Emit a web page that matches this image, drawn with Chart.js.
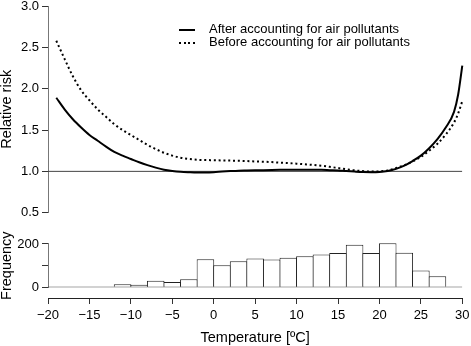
<!DOCTYPE html>
<html><head><meta charset="utf-8">
<script src="https://cdn.jsdelivr.net/npm/chart.js@4.4.1/dist/chart.umd.min.js"></script>
<style>
html,body{margin:0;padding:0;background:#fff}
#wrap{position:relative;width:471px;height:346px;overflow:hidden;background:#fff}
canvas{position:absolute;left:0;top:0}
.leg{position:absolute;left:209px;font-family:"Liberation Sans",Arial,sans-serif;font-size:13px;line-height:13px;color:#000;white-space:nowrap}
.smp{position:absolute;left:179px;width:16px;height:2px}
</style></head><body>
<div id="wrap"><canvas id="c" width="471" height="346"></canvas>
<div class="smp" style="top:29px;background:#000"></div>
<div class="leg" style="top:22px">After accounting for air pollutants</div>
<div class="smp" style="top:42px;background:repeating-linear-gradient(90deg,#000 0 2px,transparent 2px 4.6px)"></div>
<div class="leg" style="top:35px">Before accounting for air pollutants</div>
</div>
<script>
// Temperature grid of the fitted curves
const temps = [-19,-18,-17,-16,-15,-14,-13,-12,-11,-10,-9,-8,-7,-6,-5,-4,-3,-2,-1,0,1,2,3,4,5,6,7,8,9,10,11,12,13,14,15,16,17,18,19,20,21,22,23,24,25,26,27,28,29,29.5,30];
// Relative risk after accounting for air pollutants (solid)
const rrAfter = [1.89,1.75,1.63,1.53,1.44,1.37,1.30,1.235,1.19,1.15,1.11,1.075,1.045,1.02,1.005,0.995,0.99,0.987,0.987,0.99,0.997,1.003,1.008,1.01,1.012,1.014,1.016,1.018,1.02,1.02,1.02,1.02,1.018,1.014,1.01,1.003,0.997,0.992,0.99,0.993,1.005,1.03,1.07,1.125,1.19,1.28,1.39,1.53,1.72,1.93,2.28];
// Relative risk before accounting for air pollutants (dotted)
const rrBefore = [2.58,2.36,2.15,1.98,1.86,1.75,1.66,1.57,1.50,1.44,1.38,1.32,1.27,1.225,1.19,1.165,1.15,1.14,1.137,1.135,1.132,1.13,1.128,1.125,1.12,1.117,1.112,1.105,1.10,1.093,1.085,1.077,1.067,1.055,1.04,1.025,1.012,1.003,0.998,1.0,1.012,1.04,1.075,1.12,1.175,1.25,1.335,1.445,1.59,1.70,1.85];
// Histogram bins (centres of 2-degree bins) and frequencies
const binCenters = [-19,-17,-15,-13,-11,-9,-7,-5,-3,-1,1,3,5,7,9,11,13,15,17,19,21,23,25,27,29];
const binCounts  = [0,0,0,3,14,12,30,25,37,130,102,120,133,128,136,143,151,159,196,158,204,160,78,51,3];
// Axis ticks
const tempTicks = [-20,-15,-10,-5,0,5,10,15,20,25,30];
const tempTickLabels = ['\u221220','\u221215','\u221210','\u22125','0','5','10','15','20','25','30'];
const riskTicks = [0.5,1.0,1.5,2.0,2.5,3.0];
const riskTickLabels = ['0.5','1.0','1.5','2.0','2.5','3.0'];
const freqTicks = [0,100,200];
const freqTickLabels = ['0','','200'];
const refRisk = 1.0;

Chart.defaults.font.family = '"Liberation Sans", Arial, Helvetica, sans-serif';
Chart.defaults.font.size = 13;
Chart.defaults.color = '#000';

const xy = (xs, ys) => xs.map((x, i) => ({x, y: ys[i]}));
const titleFont = {size: 14.5, lineHeight: 1};

const yFit = s => { s.width = 48; s.paddingTop = 0; s.paddingBottom = 0; };

new Chart(document.getElementById('c'), {
  type: 'line',
  data: {
    datasets: [
      {type: 'line', label: 'After accounting for air pollutants', data: xy(temps, rrAfter), yAxisID: 'yRisk',
       borderColor: '#000', borderWidth: 2, pointRadius: 0, cubicInterpolationMode: 'monotone', fill: false, clip: false, order: 1},
      {type: 'line', label: 'Before accounting for air pollutants', data: xy(temps, rrBefore), yAxisID: 'yRisk',
       borderColor: '#000', borderWidth: 2, borderDash: [2, 2.8], pointRadius: 0, cubicInterpolationMode: 'monotone', fill: false, clip: false, order: 2},
      {type: 'line', label: 'ref', data: [{x: tempTicks[0], y: refRisk}, {x: tempTicks[tempTicks.length-1], y: refRisk}], yAxisID: 'yRisk',
       borderColor: '#444', borderWidth: 1, pointRadius: 0, fill: false, order: 3},
      {type: 'line', label: 'base', data: [{x: tempTicks[0], y: 0}, {x: tempTicks[tempTicks.length-1], y: 0}], yAxisID: 'yFreq',
       borderColor: '#222', borderWidth: 1, pointRadius: 0, fill: false, order: 4},
      {type: 'bar', label: 'Frequency', data: xy(binCenters, binCounts), yAxisID: 'yFreq',
       backgroundColor: '#fff', borderColor: '#222', borderWidth: 1, barPercentage: 1.06, categoryPercentage: 1, grouped: false, clip: false, order: 5}
    ]
  },
  options: {
    responsive: false, animation: false, devicePixelRatio: 1,
    layout: {autoPadding: false, padding: {top: 6, right: 8.7, left: 0, bottom: 0}},
    plugins: {legend: {display: false}, tooltip: {enabled: false}},
    scales: {
      x: {
        type: 'linear', position: 'bottom', min: -20, max: 30, offset: false,
        afterBuildTicks: s => { s.ticks = tempTicks.map(v => ({value: v})); },
        afterFit: s => { s.height = 48; s.paddingLeft = 0; s.paddingRight = 0; },
        ticks: {autoSkip: false, maxRotation: 0, padding: 4, callback: (v, i) => tempTickLabels[i]},
        grid: {display: true, drawOnChartArea: false, offset: false, tickLength: 6, color: '#333'},
        border: {display: true, color: '#222'},
        title: {display: true, text: 'Temperature [ºC]', font: titleFont, padding: {top: 0, bottom: 1}}
      },
      yRisk: {
        type: 'linear', position: 'left', stack: 'y', stackWeight: 206.7, weight: 4,
        min: 0.5, max: 3.0,
        afterBuildTicks: s => { s.ticks = riskTicks.map(v => ({value: v})); },
        afterFit: yFit,
        ticks: {autoSkip: false, padding: 3, callback: (v, i) => riskTickLabels[i]},
        grid: {display: true, drawOnChartArea: false, tickLength: 6, color: '#333'},
        border: {display: true, color: '#777'},
        title: {display: true, text: 'Relative risk', font: titleFont, padding: {top: 0, bottom: 0}}
      },
      yGap1: {type: 'linear', position: 'left', stack: 'y', stackWeight: 31.3, weight: 3, display: false, min: 0, max: 1},
      yFreq: {
        type: 'linear', position: 'left', stack: 'y', stackWeight: 43.3, weight: 2,
        min: 0, max: 200,
        afterBuildTicks: s => { s.ticks = freqTicks.map(v => ({value: v})); },
        afterFit: yFit,
        ticks: {autoSkip: false, padding: 3, callback: (v, i) => freqTickLabels[i]},
        grid: {display: true, drawOnChartArea: false, tickLength: 6, color: '#333'},
        border: {display: true, color: '#777'},
        title: {display: true, text: 'Frequency', font: titleFont, padding: {top: 0, bottom: 0}}
      },
      yGap2: {type: 'linear', position: 'left', stack: 'y', stackWeight: 10.7, weight: 1, display: false, min: 0, max: 1}
    }
  }
});
</script>
</body></html>
